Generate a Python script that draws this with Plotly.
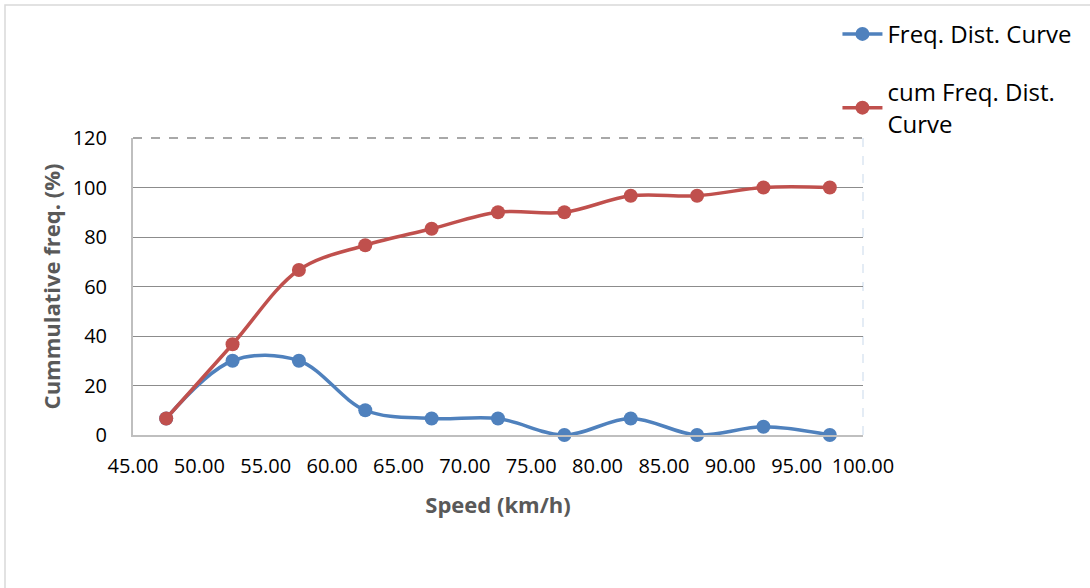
import plotly.graph_objects as go

speed = [47.5, 52.5, 57.5, 62.5, 67.5, 72.5, 77.5, 82.5, 87.5, 92.5, 97.5]
freq = [6.67, 30.0, 30.0, 10.0, 6.67, 6.67, 0.0, 6.67, 0.0, 3.33, 0.0]
cum_freq = [6.67, 36.67, 66.67, 76.67, 83.33, 90.0, 90.0, 96.67, 96.67, 100.0, 100.0]
x_ticks = [45, 50, 55, 60, 65, 70, 75, 80, 85, 90, 95, 100]
y_ticks = [0, 20, 40, 60, 80, 100, 120]

BLUE = "#4F81BD"
RED = "#C0504D"
FONT = "Open Sans"

fig = go.Figure()
fig.add_trace(go.Scatter(
    x=speed, y=freq, name="Freq. Dist. Curve", mode="lines+markers",
    line=dict(color=BLUE, width=3.5, shape="spline", smoothing=1),
    marker=dict(color=BLUE, size=14), legendgroup="a", cliponaxis=False))
fig.add_trace(go.Scatter(
    x=speed, y=cum_freq, name="cum Freq. Dist.<br>Curve", mode="lines+markers",
    line=dict(color=RED, width=3.5, shape="spline", smoothing=1),
    marker=dict(color=RED, size=14), legendgroup="b", cliponaxis=False))

fig.update_layout(
    width=1090, height=588,
    margin=dict(l=133, r=227, t=138, b=153),
    paper_bgcolor="white", plot_bgcolor="white",
    font=dict(family=FONT, color="#000000"),
    showlegend=True,
    legend=dict(x=0.965, y=1.425, xanchor="left", yanchor="top",
                font=dict(size=24, family=FONT, color="#000"),
                tracegroupgap=24, itemwidth=40, bgcolor="rgba(0,0,0,0)"),
    xaxis=dict(range=[45, 100], tickvals=x_ticks,
               ticktext=[f"{v:.2f}" for v in x_ticks],
               showgrid=False, zeroline=False,
               showline=True, linecolor="#BFBFBF", linewidth=2,
               ticks="", ticklabelstandoff=12,
               tickfont=dict(size=20, family=FONT, color="#000"),
               title=dict(text="<b>Speed (km/h)</b>", standoff=20,
                          font=dict(size=22, family=FONT, color="#595959"))),
    yaxis=dict(range=[0, 120], tickvals=y_ticks,
               showgrid=True, gridcolor="#8C8C8C", gridwidth=1.3,
               zeroline=False,
               showline=True, linecolor="#BFBFBF", linewidth=2,
               ticks="", ticklabelstandoff=20,
               tickfont=dict(size=20, family=FONT, color="#000"),
               title=dict(text="<b>Cummulative freq. (%)</b>", standoff=6,
                          font=dict(size=22, family=FONT, color="#595959"))),
)

# dashed top border and light right edge of the plot area
fig.add_shape(type="line", xref="paper", yref="paper", x0=0, x1=1, y0=1, y1=1,
              line=dict(color="#8C8C8C", width=1.3, dash="dash"), layer="above")
fig.add_shape(type="line", xref="paper", yref="paper", x0=1, x1=1, y0=0, y1=1,
              line=dict(color="#DCE6F2", width=1.5, dash="dash"), layer="below")
# outer chart border
fig.add_shape(type="rect", xref="paper", yref="paper",
              x0=(5 - 133) / 730, x1=(1095 - 133) / 730,
              y0=(435 - 595) / 297, y1=(435 - 5) / 297,
              line=dict(color="#D9D9D9", width=1.5), layer="below")

fig.write_html("out.html")
